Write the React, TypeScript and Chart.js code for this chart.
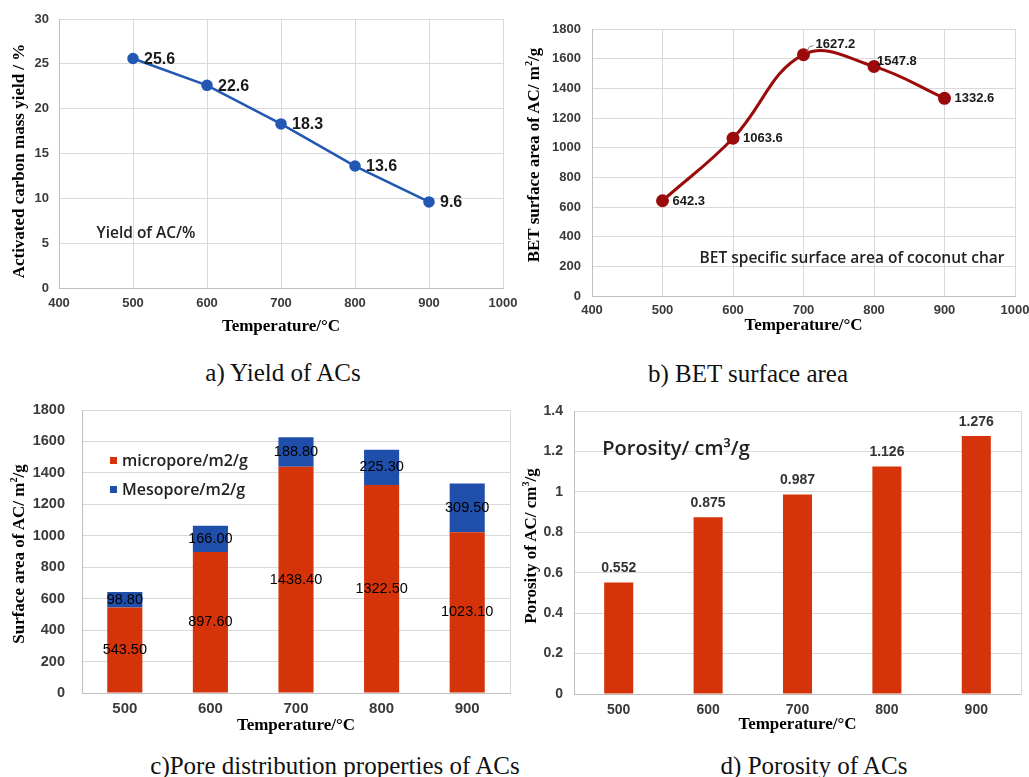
import React, { useEffect, useRef } from "react";
import { Chart, registerables } from "chart.js";

Chart.register(...registerables);

// ---------- data ----------
const TEMPS = [500, 600, 700, 800, 900];
const TEMP_LABELS = ["500", "600", "700", "800", "900"];
const YIELD = [25.6, 22.6, 18.3, 13.6, 9.6];
const BET = [642.3, 1063.6, 1627.2, 1547.8, 1332.6];
const MICROPORE = [543.5, 897.6, 1438.4, 1322.5, 1023.1];
const MESOPORE = [98.8, 166.0, 188.8, 225.3, 309.5];
const POROSITY = [0.552, 0.875, 0.987, 1.126, 1.276];
const PORE_SERIES = ["micropore/m2/g", "Mesopore/m2/g"];

// label placement for panel b (dx, dy from the point)
const BET_LABEL_OFFSETS = [
  [10, 1],
  [10, 0],
  [12, -10],
  [3, -5],
  [10, 0],
];

// ---------- style ----------
const GRID = "#d9d9d9";
const AXIS = "#bfbfbf";
const TICK_COLOR = "#3a3a3a";
const BLUE_LINE = "#2257b4";
const DARK_RED = "#9b0b0b";
const RED = "#d5330a";
const BLUE = "#1f4fab";
const SANS = "'Liberation Sans', Arial, sans-serif";
const SERIF = "'Liberation Serif', 'Times New Roman', serif";
const NOTE = "'Open Sans', 'Noto Sans', 'Liberation Sans', sans-serif";

const tickFont = (size: number) => ({ family: SANS, size, weight: "bold" as const });
const xTitle = {
  display: true,
  text: "Temperature/°C",
  color: "#000",
  font: { family: SERIF, size: 17, weight: "bold" as const },
  padding: 0,
};
const fixW = (w: number) => (s: any) => {
  s.width = w;
  s.paddingTop = 0;
  s.paddingBottom = 0;
  s.paddingLeft = 0;
  s.paddingRight = 0;
};
const fixH = (h: number) => (s: any) => {
  s.height = h;
  s.paddingTop = 0;
  s.paddingBottom = 0;
  s.paddingLeft = 0;
  s.paddingRight = 0;
};
const plainNum = (v: any) => String(Math.round(Number(v) * 10) / 10);

const areaBorder = {
  id: "areaBorder",
  afterDraw(chart: any) {
    const { ctx, chartArea: a } = chart;
    ctx.save();
    ctx.strokeStyle = GRID;
    ctx.lineWidth = 1;
    ctx.beginPath();
    ctx.moveTo(Math.round(a.right) + 0.5, a.top);
    ctx.lineTo(Math.round(a.right) + 0.5, a.bottom);
    ctx.stroke();
    ctx.restore();
  },
};

// ---------- chart configs ----------
function configA(): any {
  return {
    type: "line",
    data: {
      datasets: [
        {
          data: TEMPS.map((t, i) => ({ x: t, y: YIELD[i] })),
          borderColor: BLUE_LINE,
          backgroundColor: BLUE_LINE,
          borderWidth: 2.5,
          pointRadius: 4.5,
          tension: 0,
        },
      ],
    },
    options: {
      animation: false,
      responsive: false,
      layout: { padding: { top: 19, right: 17, bottom: 0, left: 0 } },
      plugins: { legend: { display: false }, tooltip: { enabled: false } },
      scales: {
        x: {
          type: "linear",
          min: 400,
          max: 1000,
          ticks: { stepSize: 100, padding: 8, font: tickFont(13), color: TICK_COLOR, callback: plainNum },
          grid: { color: GRID, drawTicks: false },
          border: { color: AXIS },
          title: xTitle,
          afterFit: fixH(49),
        },
        y: {
          min: 0,
          max: 30,
          ticks: { stepSize: 5, padding: 10, font: tickFont(13), color: TICK_COLOR, callback: plainNum },
          grid: { color: GRID, drawTicks: false },
          border: { color: AXIS },
          afterFit: fixW(59),
        },
      },
    },
    plugins: [
      {
        id: "labelsA",
        afterDatasetsDraw(chart: any) {
          const { ctx } = chart;
          const meta = chart.getDatasetMeta(0);
          ctx.save();
          ctx.font = `bold 16px ${SANS}`;
          ctx.fillStyle = "#1a1a1a";
          ctx.textAlign = "left";
          ctx.textBaseline = "middle";
          meta.data.forEach((p: any, i: number) => {
            ctx.fillText(String(YIELD[i]), p.x + 11, p.y + 1);
          });
          ctx.restore();
        },
      },
    ],
  };
}

function configB(): any {
  return {
    type: "line",
    data: {
      datasets: [
        {
          data: TEMPS.map((t, i) => ({ x: t, y: BET[i] })),
          borderColor: DARK_RED,
          backgroundColor: DARK_RED,
          borderWidth: 3,
          pointRadius: 5,
          tension: 0.4,
        },
      ],
    },
    options: {
      animation: false,
      responsive: false,
      layout: { padding: { top: 29, right: 14, bottom: 0, left: 0 } },
      plugins: { legend: { display: false }, tooltip: { enabled: false } },
      scales: {
        x: {
          type: "linear",
          min: 400,
          max: 1000,
          ticks: { stepSize: 100, padding: 7, font: tickFont(13), color: TICK_COLOR, callback: plainNum },
          grid: { color: GRID, drawTicks: false },
          border: { color: AXIS },
          title: xTitle,
          afterFit: fixH(40),
        },
        y: {
          min: 0,
          max: 1800,
          ticks: { stepSize: 200, padding: 11, font: tickFont(13), color: TICK_COLOR, callback: plainNum },
          grid: { color: GRID, drawTicks: false },
          border: { color: AXIS },
          afterFit: fixW(77),
        },
      },
    },
    plugins: [
      {
        id: "labelsB",
        afterDatasetsDraw(chart: any) {
          const { ctx } = chart;
          const meta = chart.getDatasetMeta(0);
          ctx.save();
          ctx.font = `bold 13px ${SANS}`;
          ctx.fillStyle = "#1a1a1a";
          ctx.textAlign = "left";
          ctx.textBaseline = "middle";
          meta.data.forEach((p: any, i: number) => {
            const [dx, dy] = BET_LABEL_OFFSETS[i];
            if (dy <= -8) {
              ctx.save();
              ctx.strokeStyle = "#8c8c8c";
              ctx.lineWidth = 1;
              ctx.beginPath();
              ctx.moveTo(p.x + 3, p.y - 3);
              ctx.lineTo(p.x + 6, p.y - 8);
              ctx.lineTo(p.x + dx - 2, p.y - 9);
              ctx.stroke();
              ctx.restore();
            }
            ctx.fillText(String(BET[i]), p.x + dx, p.y + dy);
          });
          ctx.restore();
        },
      },
    ],
  };
}

function configC(): any {
  return {
    type: "bar",
    data: {
      labels: TEMP_LABELS,
      datasets: [
        { label: PORE_SERIES[0], data: MICROPORE, backgroundColor: RED, barPercentage: 0.41, categoryPercentage: 1 },
        { label: PORE_SERIES[1], data: MESOPORE, backgroundColor: BLUE, barPercentage: 0.41, categoryPercentage: 1 },
      ],
    },
    options: {
      animation: false,
      responsive: false,
      layout: { padding: { top: 20, right: 5, bottom: 0, left: 0 } },
      plugins: { legend: { display: false }, tooltip: { enabled: false } },
      scales: {
        x: {
          stacked: true,
          ticks: { padding: 7, font: tickFont(15), color: TICK_COLOR },
          grid: { display: false, drawTicks: false },
          border: { color: AXIS },
          title: xTitle,
          afterFit: fixH(43),
        },
        y: {
          stacked: true,
          min: 0,
          max: 1800,
          ticks: { stepSize: 200, padding: 17, font: tickFont(14.5), color: TICK_COLOR, callback: plainNum },
          grid: { color: GRID, drawTicks: false },
          border: { color: AXIS },
          afterFit: fixW(82),
        },
      },
    },
    plugins: [
      areaBorder,
      {
        id: "labelsC",
        afterDatasetsDraw(chart: any) {
          const { ctx } = chart;
          ctx.save();
          ctx.font = `14.5px ${SANS}`;
          ctx.fillStyle = "#000";
          ctx.textAlign = "center";
          ctx.textBaseline = "middle";
          chart.data.datasets.forEach((ds: any, di: number) => {
            const meta = chart.getDatasetMeta(di);
            meta.data.forEach((b: any, i: number) => {
              ctx.fillText(Number(ds.data[i]).toFixed(2), b.x, (b.y + b.base) / 2);
            });
          });
          ctx.restore();
        },
      },
      {
        id: "legendC",
        afterDraw(chart: any) {
          const { ctx, chartArea: a } = chart;
          ctx.save();
          ctx.font = `600 16px ${NOTE}`;
          ctx.textAlign = "left";
          ctx.textBaseline = "middle";
          chart.data.datasets.forEach((ds: any, di: number) => {
            const y = a.top + 51 + di * 29;
            ctx.fillStyle = ds.backgroundColor;
            ctx.fillRect(a.left + 28, y - 4, 7, 7);
            ctx.fillStyle = "#222";
            ctx.fillText(ds.label, a.left + 40, y);
          });
          ctx.restore();
        },
      },
    ],
  };
}

function configD(): any {
  return {
    type: "bar",
    data: {
      labels: TEMP_LABELS,
      datasets: [{ data: POROSITY, backgroundColor: RED, barPercentage: 0.325, categoryPercentage: 1 }],
    },
    options: {
      animation: false,
      responsive: false,
      layout: { padding: { top: 21, right: 8, bottom: 0, left: 0 } },
      plugins: { legend: { display: false }, tooltip: { enabled: false } },
      scales: {
        x: {
          ticks: { padding: 8, font: tickFont(14), color: TICK_COLOR },
          grid: { display: false, drawTicks: false },
          border: { color: AXIS },
          title: xTitle,
          afterFit: fixH(41),
        },
        y: {
          min: 0,
          max: 1.4,
          ticks: { stepSize: 0.2, padding: 11, font: tickFont(14), color: TICK_COLOR, callback: plainNum },
          grid: { color: GRID, drawTicks: false },
          border: { color: AXIS },
          afterFit: fixW(59),
        },
      },
    },
    plugins: [
      areaBorder,
      {
        id: "labelsD",
        afterDatasetsDraw(chart: any) {
          const { ctx } = chart;
          const meta = chart.getDatasetMeta(0);
          ctx.save();
          ctx.font = `bold 14px ${SANS}`;
          ctx.fillStyle = "#333";
          ctx.textAlign = "center";
          ctx.textBaseline = "middle";
          meta.data.forEach((b: any, i: number) => {
            ctx.fillText(POROSITY[i].toFixed(3), b.x, b.y - 14);
          });
          ctx.restore();
        },
      },
    ],
  };
}

// ---------- components ----------
function ChartCanvas(props: { left: number; top: number; width: number; height: number; make: () => any }) {
  const ref = useRef<HTMLCanvasElement | null>(null);
  useEffect(() => {
    const chart = new Chart(ref.current as HTMLCanvasElement, props.make());
    return () => chart.destroy();
  }, []);
  return (
    <canvas
      ref={ref}
      width={props.width}
      height={props.height}
      style={{ position: "absolute", left: props.left, top: props.top, width: props.width, height: props.height }}
    />
  );
}

function Text(props: { x: number; y: number; size: number; family: string; weight?: number; color?: string; rotate?: boolean; children: any }) {
  return (
    <div
      style={{
        position: "absolute",
        left: props.x,
        top: props.y,
        transform: `translate(-50%, -50%)${props.rotate ? " rotate(-90deg)" : ""}`,
        fontFamily: props.family,
        fontSize: props.size,
        fontWeight: props.weight ?? 400,
        color: props.color ?? "#111",
        whiteSpace: "nowrap",
        lineHeight: 1,
      }}
    >
      {props.children}
    </div>
  );
}

const supStyle: React.CSSProperties = { fontSize: "0.6em", verticalAlign: "0.6em", lineHeight: 0 };

export default function App() {
  return (
    <div
      style={{
        position: "fixed",
        left: 0,
        top: 0,
        width: 1029,
        height: 777,
        background: "#fff",
        overflow: "hidden",
      }}
    >
      <ChartCanvas left={0} top={0} width={520} height={337} make={configA} />
      <ChartCanvas left={515} top={0} width={514} height={336} make={configB} />
      <ChartCanvas left={0} top={390} width={515} height={346} make={configC} />
      <ChartCanvas left={515} top={390} width={514} height={345} make={configD} />

      {/* y-axis titles */}
      <Text x={18} y={161} size={17} family={SERIF} weight={700} color="#000" rotate>
        Activated carbon mass yield / %
      </Text>
      <Text x={533} y={155} size={17} family={SERIF} weight={700} color="#000" rotate>
        BET surface area of AC/ m<sup style={supStyle}>2</sup>/g
      </Text>
      <Text x={18} y={554} size={17} family={SERIF} weight={700} color="#000" rotate>
        Surface area of AC/ m<sup style={supStyle}>2</sup>/g
      </Text>
      <Text x={530} y={546} size={17} family={SERIF} weight={700} color="#000" rotate>
        Porosity of AC/ cm<sup style={supStyle}>3</sup>/g
      </Text>

      {/* in-plot notes */}
      <Text x={146} y={233} size={15.5} family={NOTE} weight={600} color="#222">
        Yield of AC/%
      </Text>
      <Text x={852} y={258} size={15.5} family={NOTE} weight={600} color="#222">
        BET specific surface area of coconut char
      </Text>
      <Text x={676} y={448} size={20} family={NOTE} weight={600} color="#222">
        Porosity/ cm³/g
      </Text>

      {/* captions */}
      <Text x={283} y={372} size={25} family={SERIF}>
        a) Yield of ACs
      </Text>
      <Text x={748} y={373} size={25} family={SERIF}>
        b) BET surface area
      </Text>
      <Text x={335} y={765} size={25} family={SERIF}>
        c)Pore distribution properties of ACs
      </Text>
      <Text x={814} y={765} size={25} family={SERIF}>
        d) Porosity of ACs
      </Text>
    </div>
  );
}
